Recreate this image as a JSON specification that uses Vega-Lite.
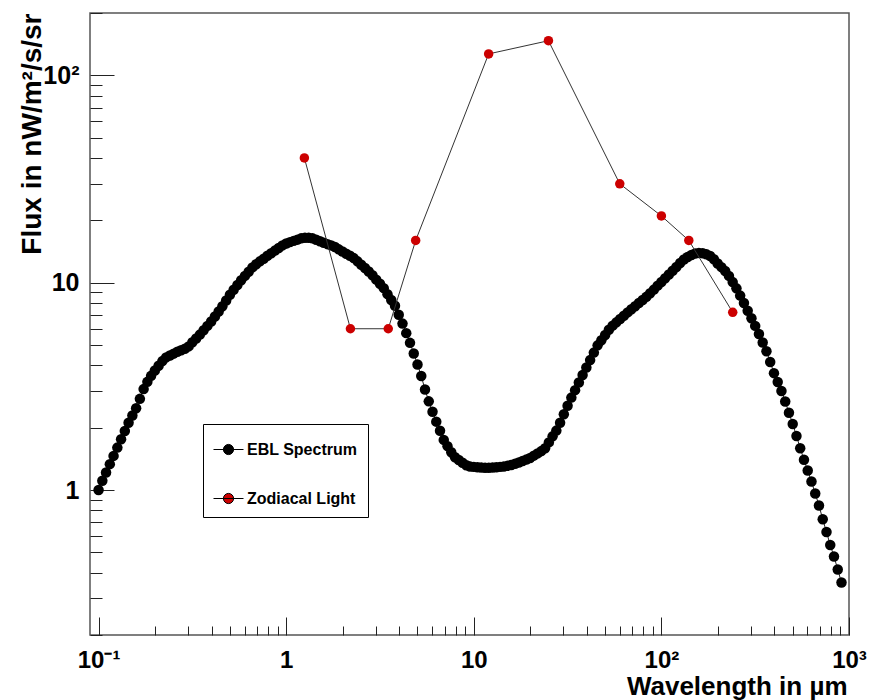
{
  "$schema": "https://vega.github.io/schema/vega-lite/v6.json",
  "width": 759,
  "height": 622,
  "autosize": {"type": "none"},
  "padding": {"left": 90, "top": 13, "right": 22, "bottom": 65},
  "background": "white",
  "datasets": {
    "ebl": [
      {"x":0.1,"y":1.0},{"x":0.1047,"y":1.109},{"x":0.1096,"y":1.216},{"x":0.1148,"y":1.334},{"x":0.1202,"y":1.462},{"x":0.1259,"y":1.603},{"x":0.1318,"y":1.758},{"x":0.138,"y":1.928},{"x":0.1445,"y":2.113},{"x":0.1514,"y":2.291},
      {"x":0.1585,"y":2.483},{"x":0.166,"y":2.754},{"x":0.1738,"y":3.069},{"x":0.182,"y":3.327},{"x":0.1905,"y":3.556},{"x":0.1995,"y":3.776},{"x":0.2089,"y":3.981},{"x":0.2188,"y":4.188},{"x":0.2291,"y":4.365},{"x":0.2399,"y":4.457},
      {"x":0.2512,"y":4.55},{"x":0.263,"y":4.645},{"x":0.2754,"y":4.721},{"x":0.2884,"y":4.808},{"x":0.302,"y":4.932},{"x":0.3162,"y":5.164},{"x":0.3311,"y":5.383},{"x":0.3467,"y":5.623},{"x":0.3631,"y":5.902},{"x":0.3802,"y":6.194},
      {"x":0.3981,"y":6.501},{"x":0.4169,"y":6.871},{"x":0.4365,"y":7.261},{"x":0.4571,"y":7.709},{"x":0.4786,"y":8.204},{"x":0.5012,"y":8.75},{"x":0.5248,"y":9.247},{"x":0.5495,"y":9.75},{"x":0.5754,"y":10.28},{"x":0.6026,"y":10.79},
      {"x":0.631,"y":11.3},{"x":0.6607,"y":11.86},{"x":0.6918,"y":12.27},{"x":0.7244,"y":12.68},{"x":0.7586,"y":13.06},{"x":0.7943,"y":13.49},{"x":0.8318,"y":13.87},{"x":0.871,"y":14.29},{"x":0.912,"y":14.72},{"x":0.955,"y":15.14},
      {"x":1.0,"y":15.45},{"x":1.047,"y":15.7},{"x":1.096,"y":15.92},{"x":1.148,"y":16.14},{"x":1.202,"y":16.37},{"x":1.259,"y":16.48},{"x":1.318,"y":16.48},{"x":1.38,"y":16.37},{"x":1.445,"y":16.11},{"x":1.514,"y":15.85},
      {"x":1.585,"y":15.6},{"x":1.66,"y":15.35},{"x":1.738,"y":15.14},{"x":1.82,"y":14.86},{"x":1.905,"y":14.49},{"x":1.995,"y":14.16},{"x":2.089,"y":13.8},{"x":2.188,"y":13.49},{"x":2.291,"y":13.15},{"x":2.399,"y":12.68},
      {"x":2.512,"y":12.22},{"x":2.63,"y":11.78},{"x":2.754,"y":11.32},{"x":2.884,"y":10.86},{"x":3.02,"y":10.35},{"x":3.162,"y":9.886},{"x":3.311,"y":9.419},{"x":3.467,"y":8.81},{"x":3.631,"y":8.26},{"x":3.802,"y":7.745},
      {"x":3.981,"y":7.015},{"x":4.169,"y":6.353},{"x":4.365,"y":5.715},{"x":4.571,"y":5.129},{"x":4.786,"y":4.56},{"x":5.012,"y":4.036},{"x":5.248,"y":3.548},{"x":5.495,"y":3.055},{"x":5.754,"y":2.679},{"x":6.026,"y":2.388},
      {"x":6.31,"y":2.138},{"x":6.607,"y":1.932},{"x":6.918,"y":1.746},{"x":7.244,"y":1.629},{"x":7.586,"y":1.521},{"x":7.943,"y":1.439},{"x":8.318,"y":1.396},{"x":8.71,"y":1.355},{"x":9.12,"y":1.318},{"x":9.55,"y":1.3},
      {"x":10.0,"y":1.294},{"x":10.47,"y":1.288},{"x":10.96,"y":1.285},{"x":11.48,"y":1.282},{"x":12.02,"y":1.282},{"x":12.59,"y":1.285},{"x":13.18,"y":1.288},{"x":13.8,"y":1.294},{"x":14.45,"y":1.3},{"x":15.14,"y":1.309},
      {"x":15.85,"y":1.321},{"x":16.6,"y":1.34},{"x":17.38,"y":1.358},{"x":18.2,"y":1.38},{"x":19.05,"y":1.403},{"x":19.95,"y":1.429},{"x":20.89,"y":1.466},{"x":21.88,"y":1.503},{"x":22.91,"y":1.542},{"x":23.99,"y":1.592},
      {"x":25.12,"y":1.698},{"x":26.3,"y":1.816},{"x":27.54,"y":1.936},{"x":28.84,"y":2.113},{"x":30.2,"y":2.323},{"x":31.62,"y":2.553},{"x":33.11,"y":2.793},{"x":34.67,"y":3.034},{"x":36.31,"y":3.304},{"x":38.02,"y":3.589},
      {"x":39.81,"y":3.899},{"x":41.69,"y":4.236},{"x":43.65,"y":4.603},{"x":45.71,"y":4.989},{"x":47.86,"y":5.284},{"x":50.12,"y":5.598},{"x":52.48,"y":5.929},{"x":54.95,"y":6.209},{"x":57.54,"y":6.442},{"x":60.26,"y":6.683},
      {"x":63.1,"y":6.934},{"x":66.07,"y":7.194},{"x":69.18,"y":7.447},{"x":72.44,"y":7.709},{"x":75.86,"y":7.98},{"x":79.43,"y":8.26},{"x":83.18,"y":8.551},{"x":87.1,"y":8.892},{"x":91.2,"y":9.268},{"x":95.5,"y":9.683},
      {"x":100.0,"y":10.09},{"x":104.7,"y":10.52},{"x":109.6,"y":10.96},{"x":114.8,"y":11.43},{"x":120.2,"y":11.91},{"x":125.9,"y":12.45},{"x":131.8,"y":12.94},{"x":138.0,"y":13.3},{"x":144.5,"y":13.61},{"x":151.4,"y":13.84},
      {"x":158.5,"y":13.93},{"x":166.0,"y":13.87},{"x":173.8,"y":13.71},{"x":182.0,"y":13.46},{"x":190.5,"y":12.97},{"x":199.5,"y":12.39},{"x":208.9,"y":11.89},{"x":218.8,"y":11.4},{"x":229.1,"y":10.79},{"x":239.9,"y":10.07},
      {"x":251.2,"y":9.397},{"x":263.0,"y":8.67},{"x":275.4,"y":7.98},{"x":288.4,"y":7.328},{"x":302.0,"y":6.745},{"x":316.2,"y":6.194},{"x":331.1,"y":5.662},{"x":346.7,"y":5.152},{"x":363.1,"y":4.677},{"x":380.2,"y":4.15},
      {"x":398.1,"y":3.664},{"x":416.9,"y":3.319},{"x":436.5,"y":3.006},{"x":457.1,"y":2.673},{"x":478.6,"y":2.36},{"x":501.2,"y":2.084},{"x":524.8,"y":1.824},{"x":549.5,"y":1.592},{"x":575.4,"y":1.4},{"x":602.6,"y":1.242},
      {"x":631.0,"y":1.099},{"x":660.7,"y":0.962},{"x":691.8,"y":0.843},{"x":724.4,"y":0.723},{"x":758.6,"y":0.628},{"x":794.3,"y":0.543},{"x":831.8,"y":0.478},{"x":871.0,"y":0.414},{"x":912.0,"y":0.358}
    ],
    "zodi": [
      {"x":1.25,"y":40},{"x":2.2,"y":6},{"x":3.5,"y":6},{"x":4.9,"y":16},{"x":12,"y":127},{"x":25,"y":147},{"x":60,"y":30},{"x":100,"y":21},{"x":140,"y":16},{"x":240,"y":7.2}
    ]
  },
  "encoding": {
    "x": {
      "field": "x", "type": "quantitative",
      "scale": {"type": "log", "domain": [0.09, 1000], "nice": false},
      "axis": {
        "values": [0.1,0.2,0.3,0.4,0.5,0.6,0.7,0.8,0.9,1,2,3,4,5,6,7,8,9,10,20,30,40,50,60,70,80,90,100,200,300,400,500,600,700,800,900,1000],
        "labelExpr": "datum.value === 0.1 ? '10⁻¹' : datum.value === 1 ? '1' : datum.value === 10 ? '10' : datum.value === 100 ? '10²' : datum.value === 1000 ? '10³' : ''",
        "tickSize": {"condition": {"test": "datum.value === 0.1 || datum.value === 1 || datum.value === 10 || datum.value === 100 || datum.value === 1000", "value": -18}, "value": -9},
        "labelPadding": 31,
        "labelFlush": false,
        "labelOverlap": false,
        "labelFontSize": 24,
        "labelFontWeight": "bold",
        "labelFont": "Liberation Sans",
        "labelColor": "black",
        "tickColor": "#222",
        "tickWidth": 1,
        "domain": false,
        "grid": false,
        "title": "Wavelength in µm",
        "titleFont": "Liberation Sans",
        "titleFontSize": 26,
        "titleFontWeight": "bold",
        "titleColor": "black",
        "titleAnchor": "end",
        "titleAlign": "right",
        "titleBaseline": "alphabetic",
        "titleX": 757,
        "titleY": 59
      }
    },
    "y": {
      "field": "y", "type": "quantitative",
      "scale": {"type": "log", "domain": [0.2, 200], "nice": false},
      "axis": {
        "values": [0.2,0.3,0.4,0.5,0.6,0.7,0.8,0.9,1,2,3,4,5,6,7,8,9,10,20,30,40,50,60,70,80,90,100,200],
        "labelExpr": "datum.value === 1 ? '1' : datum.value === 10 ? '10' : datum.value === 100 ? '10²' : ''",
        "tickSize": {"condition": {"test": "datum.value === 1 || datum.value === 10 || datum.value === 100", "value": -24}, "value": -12},
        "labelPadding": 35,
        "labelFlush": false,
        "labelOverlap": false,
        "labelFontSize": 25,
        "labelFontWeight": "bold",
        "labelFont": "Liberation Sans",
        "labelColor": "black",
        "tickColor": "#222",
        "tickWidth": 1,
        "domain": false,
        "grid": false,
        "title": "Flux in nW/m²/s/sr",
        "titleFont": "Liberation Sans",
        "titleFontSize": 28,
        "titleFontWeight": "bold",
        "titleColor": "black",
        "titleAnchor": "end",
        "titleAngle": -90,
        "titleAlign": "right",
        "titleBaseline": "alphabetic",
        "titleX": -50,
        "titleY": 0
      }
    }
  },
  "layer": [
    {
      "data": {"name": "ebl"},
      "mark": {"type": "line", "color": "#222", "strokeWidth": 1},
      "encoding": {}
    },
    {
      "data": {"name": "ebl"},
      "mark": {"type": "point", "filled": true, "size": 110, "opacity": 1, "strokeWidth": 0},
      "encoding": {
        "color": {
          "datum": "EBL Spectrum",
          "scale": {"domain": ["EBL Spectrum", "Zodiacal Light"], "range": ["black", "#cc0000"]},
          "legend": {
            "title": null,
            "orient": "none",
            "legendX": 113,
            "legendY": 411,
            "direction": "vertical",
            "padding": 10,
            "rowPadding": 25,
            "fillColor": "white",
            "strokeColor": "black",
            "cornerRadius": 0,
            "symbolType": "M -1 0 L 1 0 M 0.34 0 A 0.34 0.34 0 1 1 -0.34 0 A 0.34 0.34 0 1 1 0.34 0 Z",
            "symbolSize": 900,
            "symbolStrokeWidth": 1,
            "symbolStrokeColor": "black",
            "symbolOpacity": 1,
            "labelFont": "Liberation Sans",
            "labelFontSize": 16,
            "labelFontWeight": "bold",
            "labelColor": "black",
            "labelOffset": 3,
            "encode": {"symbols": {"update": {"stroke": {"value": "black"}, "strokeWidth": {"value": 1}, "opacity": {"value": 1}}}}
          }
        }
      }
    },
    {
      "data": {"name": "zodi"},
      "mark": {"type": "line", "color": "#333", "strokeWidth": 1},
      "encoding": {}
    },
    {
      "data": {"name": "zodi"},
      "mark": {"type": "point", "filled": true, "size": 90, "opacity": 1, "strokeWidth": 0},
      "encoding": {
        "color": {"datum": "Zodiacal Light"}
      }
    }
  ],
  "config": {
    "view": {"stroke": "#555", "strokeWidth": 1.5},
    "font": "Liberation Sans"
  }
}
